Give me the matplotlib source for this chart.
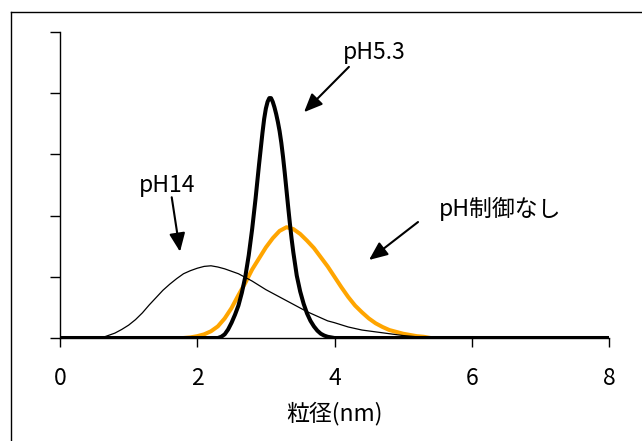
import matplotlib
matplotlib.use("Agg")
import matplotlib.pyplot as plt
from matplotlib.lines import Line2D

plt.rcParams['font.family'] = ['Noto Sans CJK JP', 'DejaVu Sans']

# pH5.3 (thick black), includes baseline 0..8
x_ph53 = [0.0, 2.30, 2.35, 2.40, 2.45, 2.50, 2.55, 2.60, 2.65, 2.70, 2.75, 2.80, 2.85,
          2.90, 2.95, 2.975, 3.00, 3.025, 3.05, 3.075, 3.10, 3.125, 3.15, 3.175, 3.20,
          3.225, 3.25, 3.275, 3.30, 3.325, 3.35, 3.375, 3.40, 3.45, 3.50, 3.55, 3.60,
          3.65, 3.70, 3.75, 3.80, 3.85, 3.90, 3.95, 4.00, 8.0]
y_ph53 = [0.0, 0.0, 0.02, 0.06, 0.14, 0.25, 0.38, 0.53, 0.74, 1.00, 1.35, 1.78, 2.28,
          2.83, 3.35, 3.58, 3.75, 3.86, 3.92, 3.92, 3.86, 3.77, 3.66, 3.53, 3.38,
          3.19, 2.96, 2.70, 2.42, 2.14, 1.87, 1.62, 1.40, 1.02, 0.76, 0.56, 0.40,
          0.28, 0.19, 0.12, 0.07, 0.04, 0.02, 0.01, 0.0, 0.0]

# pH制御なし (orange)
x_none = [1.8, 1.9, 2.0, 2.1, 2.2, 2.3, 2.4, 2.5, 2.6, 2.7, 2.8, 2.9, 3.0, 3.1, 3.2,
          3.3, 3.4, 3.5, 3.6, 3.7, 3.8, 3.9, 4.0, 4.1, 4.2, 4.3, 4.4, 4.5, 4.6, 4.7,
          4.8, 4.9, 5.0, 5.1, 5.2, 5.3, 5.4]
y_none = [0.0, 0.01, 0.03, 0.06, 0.11, 0.19, 0.32, 0.49, 0.70, 0.90, 1.12, 1.30, 1.48,
          1.63, 1.75, 1.81, 1.78, 1.70, 1.59, 1.47, 1.32, 1.17, 1.00, 0.83, 0.67, 0.53,
          0.42, 0.32, 0.24, 0.18, 0.13, 0.10, 0.07, 0.05, 0.03, 0.02, 0.0]

# pH14 (thin black)
x_ph14 = [0.6, 0.7, 0.8, 0.9, 1.0, 1.1, 1.2, 1.3, 1.4, 1.5, 1.6, 1.7, 1.8, 1.9, 2.0,
          2.1, 2.2, 2.3, 2.4, 2.5, 2.6, 2.7, 2.8, 2.9, 3.0, 3.1, 3.2, 3.3, 3.4, 3.5,
          3.6, 3.7, 3.8, 3.9, 4.0, 4.2, 4.4, 4.6, 4.8, 5.0, 5.2, 5.4]
y_ph14 = [0.0, 0.04, 0.08, 0.14, 0.21, 0.30, 0.41, 0.54, 0.66, 0.78, 0.88, 0.97, 1.05,
          1.10, 1.14, 1.17, 1.18, 1.16, 1.13, 1.09, 1.05, 0.99, 0.93, 0.86, 0.79, 0.73,
          0.67, 0.61, 0.55, 0.49, 0.43, 0.38, 0.33, 0.28, 0.25, 0.18, 0.13, 0.10, 0.07,
          0.04, 0.02, 0.0]

x_ticks = [0, 2, 4, 6, 8]
y_ticks = [0, 1, 2, 3, 4, 5]
x_label = '粒径(nm)'
labels = ['pH5.3', 'pH制御なし', 'pH14']

fig = plt.figure(figsize=(6.42, 4.41), dpi=100)
ax = fig.add_axes([60/642, 1-338/441, (609-60)/642, (338-32)/441])

ax.plot(x_none, y_none, color='#FFA500', lw=2.9, solid_capstyle='round',
        solid_joinstyle='round', zorder=3)
ax.plot(x_ph14, y_ph14, color='black', lw=0.9, zorder=4)
ax.plot(x_ph53, y_ph53, color='black', lw=2.9, solid_joinstyle='round', zorder=5)

ax.set_xlim(0, 8)
ax.set_ylim(0, 5)
ax.set_xticks(x_ticks)
ax.set_xticklabels([str(t) for t in x_ticks])
ax.set_yticks(y_ticks)
ax.set_yticklabels([])
ax.spines['top'].set_visible(False)
ax.spines['right'].set_visible(False)
ax.spines['left'].set_linewidth(1.0)
ax.spines['bottom'].set_linewidth(1.0)
ax.tick_params(axis='x', direction='out', length=6.5, width=1.0, labelsize=16.5, pad=14.5)
ax.tick_params(axis='y', direction='out', length=7, width=1.0)
ax.set_xlabel(x_label, fontsize=16.5, labelpad=8.5)

arrow = dict(arrowstyle='-|>,head_length=0.7,head_width=0.3', lw=1.5, color='black',
             mutation_scale=16, shrinkA=0, shrinkB=0)
ax.annotate('', xy=(3.556, 3.69), xytext=(4.21, 4.43), arrowprops=arrow, annotation_clip=False)
ax.annotate('', xy=(4.503, 1.275), xytext=(5.217, 1.895), arrowprops=arrow, annotation_clip=False)
ax.annotate('', xy=(1.749, 1.41), xytext=(1.628, 2.30), arrowprops=arrow, annotation_clip=False)

ax.text(4.576, 4.673, labels[0], fontsize=16.5, ha='center', va='center')
ax.text(6.41, 2.108, labels[1], fontsize=16.5, ha='center', va='center')
ax.text(1.559, 2.484, labels[2], fontsize=16.5, ha='center', va='center')

# outer frame (partially clipped)
fig.add_artist(Line2D([11/642, 1.0], [1-11.5/441, 1-11.5/441], transform=fig.transFigure,
                      color='black', lw=1.0))
fig.add_artist(Line2D([11/642, 11/642], [0.0, 1-11.5/441], transform=fig.transFigure,
                      color='black', lw=1.0))

fig.savefig('out.png', dpi=100)
